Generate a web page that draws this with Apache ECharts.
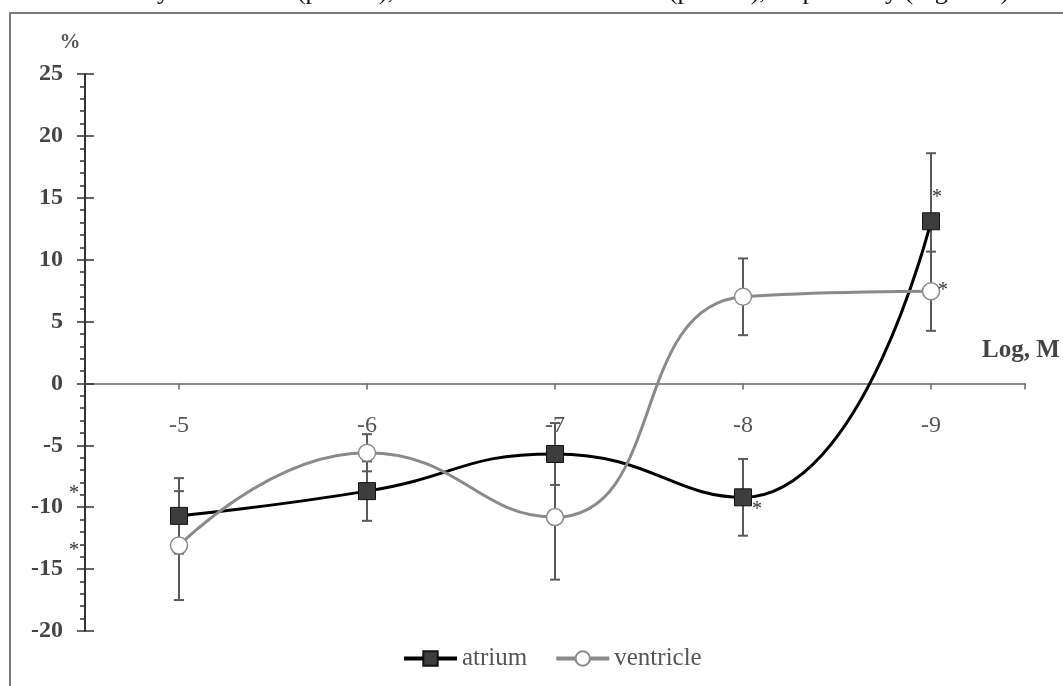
<!DOCTYPE html>
<html>
<head>
<meta charset="utf-8">
<script src="https://cdn.jsdelivr.net/npm/echarts@6/dist/echarts.min.js"></script>
<style>html,body{margin:0;padding:0;background:#fff}#c{width:1063px;height:686px}</style>
</head>
<body>
<div id="c"></div>
<script>
const concentrations = [-5, -6, -7, -8, -9];
const atrium = [-10.7, -8.7, -5.7, -9.2, 13.1];
const atriumErr = [3.05, 2.4, 2.5, 3.1, 5.5];
const ventricle = [-13.1, -5.6, -10.8, 7.0, 7.45];
const ventricleErr = [4.4, 1.5, 5.05, 3.1, 3.2];
const atriumSignif = [true, false, false, true, true];
const ventricleSignif = [true, false, false, false, true];
const yTicks = [-20, -15, -10, -5, 0, 5, 10, 15, 20, 25];
const xTickLabels = ['-5', '-6', '-7', '-8', '-9'];
const caption = 'by 13.1±5.5% (p<0.05), and ventricle – 7.5±3.2% (p<0.05), respectively (Figure 3)';

const SERIF = '"Liberation Serif","Times New Roman",serif';
const atriumStarOffset = [[-105, -22], null, null, [14, 12], [6, -24]];
const ventricleStarOffset = [[-105, 5], null, null, null, [12, 0]];

function build(vals, signif, offs) {
  return vals.map((v, i) => {
    const item = { value: [concentrations[i], v] };
    if (signif[i]) {
      item.label = { show: true, formatter: '*', position: 'inside', offset: offs[i],
        fontFamily: SERIF, fontSize: 20, color: '#333' };
    }
    return item;
  });
}
function errData(vals, errs) {
  return vals.map((v, i) => [concentrations[i], v - errs[i], v + errs[i]]);
}
function errRender(params, api) {
  const x = api.value(0);
  const lo = api.coord([x, api.value(1)]);
  const hi = api.coord([x, api.value(2)]);
  const w = 5;
  const st = { stroke: '#5a5a5a', lineWidth: 2 };
  return { type: 'group', children: [
    { type: 'line', shape: { x1: lo[0], y1: lo[1], x2: hi[0], y2: hi[1] }, style: st },
    { type: 'line', shape: { x1: lo[0] - w, y1: lo[1], x2: lo[0] + w, y2: lo[1] }, style: st },
    { type: 'line', shape: { x1: hi[0] - w, y1: hi[1], x2: hi[0] + w, y2: hi[1] }, style: st }
  ]};
}

const Y_MIN = -20, Y_MAX = 25;
const GRID = { left: 85, right: 38, top: 74, bottom: 55 };
const plotH = 686 - GRID.top - GRID.bottom;
const zeroOffset = -plotH * (0 - Y_MIN) / (Y_MAX - Y_MIN);

const chart = echarts.init(document.getElementById('c'), null, { renderer: 'canvas' });
chart.setOption({
  animation: false,
  backgroundColor: '#fff',
  grid: GRID,
  graphic: [
    { type: 'rect', shape: { x: 10, y: 13, width: 1060, height: 690 },
      style: { fill: 'none', stroke: '#7a7a7a', lineWidth: 2 }, z: 0 },
    { type: 'text', x: 144, y: 5, style: { text: caption, font: '26px ' + SERIF,
      fill: '#111', textVerticalAlign: 'bottom' }, z: 0 },
    { type: 'text', x: 70, y: 43, style: { text: '%', font: 'bold 21px ' + SERIF,
      fill: '#555', textAlign: 'center', textVerticalAlign: 'middle' } },
    { type: 'text', x: 1021, y: 351, style: { text: 'Log, M', font: 'bold 25px ' + SERIF,
      fill: '#444', textAlign: 'center', textVerticalAlign: 'middle' } }
  ],
  legend: {
    left: 397, bottom: 10, itemWidth: 53, itemHeight: 18, itemGap: 27,
    textStyle: { fontFamily: SERIF, fontSize: 25, color: '#555' },
    lineStyle: { width: 4 },
    data: ['atrium', 'ventricle']
  },
  xAxis: {
    type: 'value', min: -9.5, max: -4.5, inverse: true, position: 'bottom', offset: zeroOffset,
    axisLine: { onZero: false, lineStyle: { color: '#666', width: 1.5 } },
    axisTick: { show: true, length: 6, customValues: [-5, -6, -7, -8, -9, -9.5],
      lineStyle: { color: '#666', width: 1.5 } },
    axisLabel: { customValues: concentrations, margin: 30,
      formatter: v => xTickLabels[concentrations.indexOf(v)],
      fontFamily: SERIF, fontSize: 24, color: '#555' },
    splitLine: { show: false }
  },
  yAxis: [{
    type: 'value', min: Y_MIN, max: Y_MAX, interval: 5, position: 'left',
    axisLine: { show: true, lineStyle: { color: '#333', width: 2 } },
    axisTick: { show: true, length: 8, lineStyle: { color: '#333', width: 1.5 } },
    minorTick: { show: true, splitNumber: 5, length: 5, lineStyle: { color: '#333', width: 1.5 } },
    axisLabel: { margin: 22, fontFamily: SERIF, fontWeight: 'bold', fontSize: 24, color: '#444',
      customValues: yTicks },
    splitLine: { show: false }
  }, {
    type: 'value', min: Y_MIN, max: Y_MAX, interval: 5, position: 'left', offset: 0,
    axisLine: { show: false },
    axisTick: { show: true, inside: true, length: 9, lineStyle: { color: '#333', width: 1.5 } },
    axisLabel: { show: false },
    splitLine: { show: false }
  }],
  series: [
    { type: 'custom', name: 'atriumErr', renderItem: errRender, data: errData(atrium, atriumErr), z: 1, silent: true },
    { type: 'custom', name: 'ventricleErr', renderItem: errRender, data: errData(ventricle, ventricleErr), z: 1, silent: true },
    { type: 'line', name: 'atrium', smooth: 0.5, data: build(atrium, atriumSignif, atriumStarOffset),
      symbol: 'rect', symbolSize: 17,
      lineStyle: { color: '#000', width: 3 },
      itemStyle: { color: '#3d3d3d', borderColor: '#111', borderWidth: 1 }, z: 3 },
    { type: 'line', name: 'ventricle', smooth: 0.5, data: build(ventricle, ventricleSignif, ventricleStarOffset),
      symbol: 'circle', symbolSize: 17,
      lineStyle: { color: '#8a8a8a', width: 3 },
      itemStyle: { color: '#fff', borderColor: '#8a8a8a', borderWidth: 1.5 }, z: 4 }
  ]
});
</script>
</body>
</html>
